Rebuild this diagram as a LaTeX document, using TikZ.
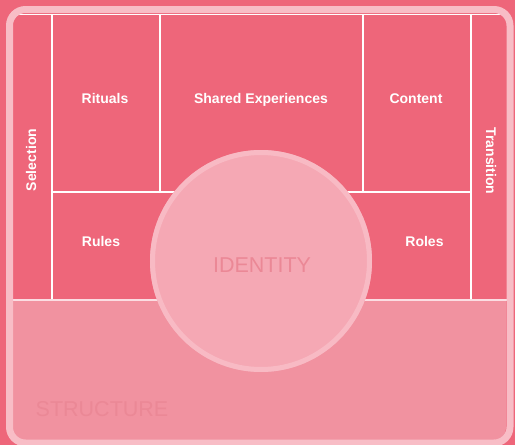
\documentclass[tikz,border=0pt]{standalone}
\usepackage{fontspec}
\setmainfont{Liberation Sans}
\definecolor{bgpink}{HTML}{EE667A}
\definecolor{framepink}{HTML}{F8BDC6}
\definecolor{structpink}{HTML}{F192A0}
\definecolor{circpink}{HTML}{F5A8B4}
\definecolor{circring}{HTML}{F8BAC4}
\definecolor{faint}{HTML}{EB8896}
\definecolor{lineltpink}{HTML}{FBDDE2}
\tikzset{
  celllabel/.style={text=white, font=\fontsize{14}{16}\selectfont\bfseries, inner sep=0pt, text height=10pt, text depth=3pt},
  biglabel/.style={text=faint, font=\fontsize{21.5}{24}\selectfont, inner sep=0pt},
  cellline/.style={draw=white, line width=1.6pt},
}
\begin{document}
\begin{tikzpicture}[x=1pt,y=-1pt]
\useasboundingbox (0,0) rectangle (515,445);
\fill[bgpink] (0,0) rectangle (515,445);
% structure region
\fill[structpink, rounded corners=12] (12,300) -- (12,440) -- (506,440) -- (506,300);
% cell lines
\draw[cellline] (14,14.5) -- (506,14.5);
\draw[cellline] (52,14) -- (52,300);
\draw[cellline] (160,14) -- (160,192);
\draw[cellline] (363,14) -- (363,192);
\draw[cellline] (471,14) -- (471,300);
\draw[cellline] (52,192) -- (471,192);
\draw[draw=lineltpink, line width=2.2pt] (12,300) -- (507,300);
% frame
\draw[framepink, line width=7pt, rounded corners=16] (9.5,9.5) rectangle (510,443);
% circle
\fill[circpink] (261,261) circle[radius=111];
\draw[circring, line width=5pt] (261,261) circle[radius=108.5];
% labels
\node[celllabel] (rituals) at (105,99.5) {Rituals};
\node[celllabel] (shared) at (261,99.5) {Shared Experiences};
\node[celllabel] (content) at (416,99.5) {Content};
\node[celllabel] (rules) at (101,243) {Rules};
\node[celllabel] (roles) at (424.5,243) {Roles};
\node[celllabel, rotate=90] (selection) at (32.5,160) {Selection};
\node[celllabel, rotate=-90] (transition) at (489.5,161) {Transition};
\node[biglabel] (identity) at (262,265) {IDENTITY};
\node[biglabel] (structure) at (102,409) {STRUCTURE};
\end{tikzpicture}
\end{document}
